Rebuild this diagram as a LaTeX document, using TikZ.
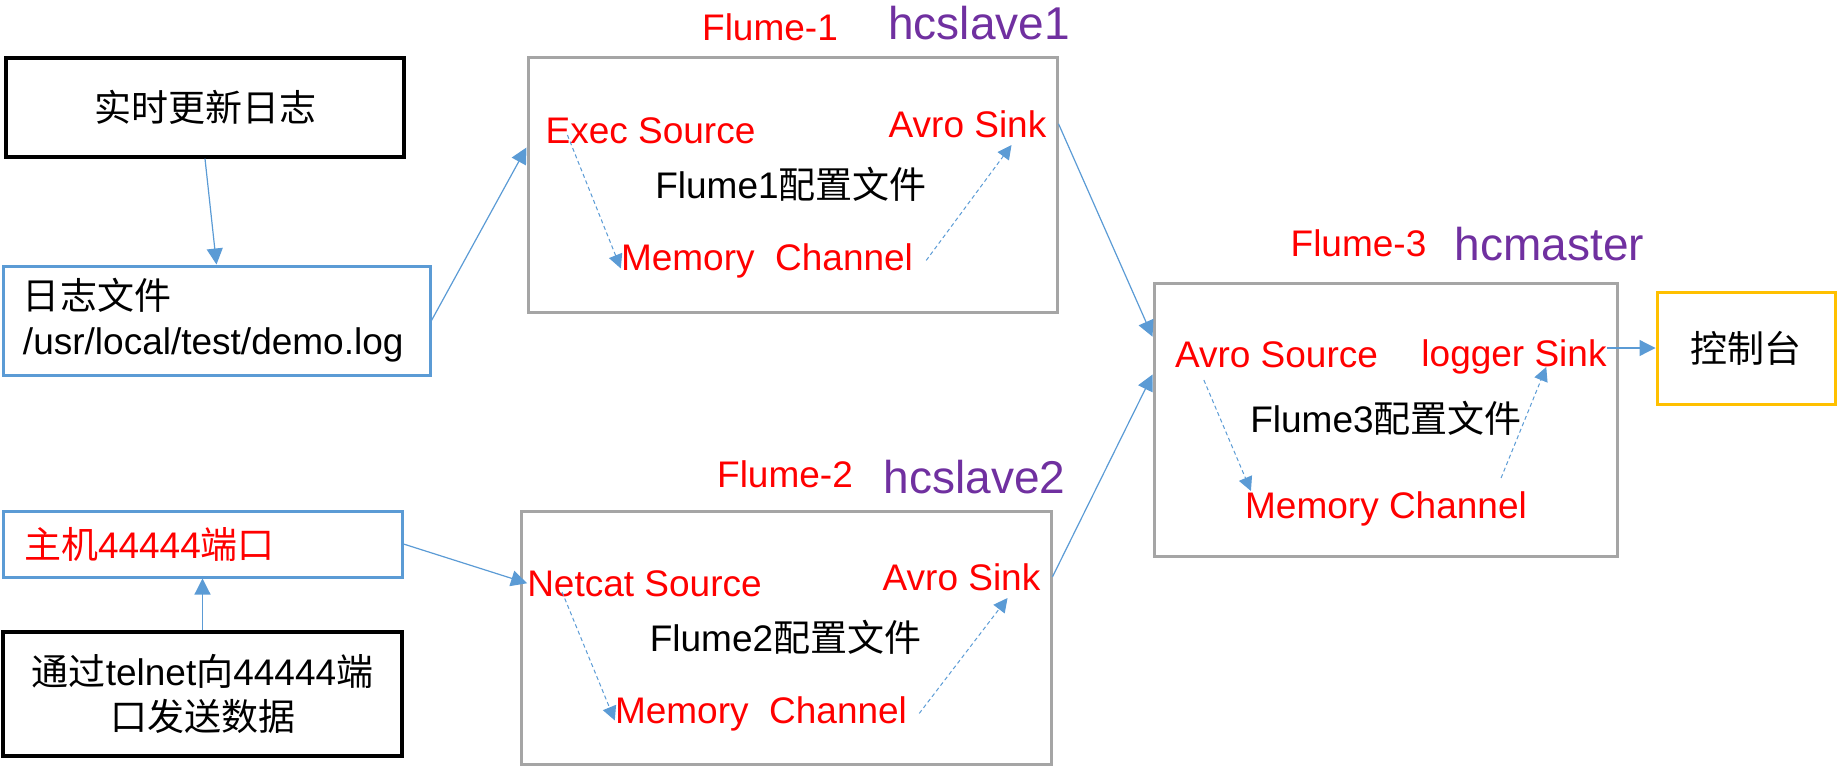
\documentclass[tikz,border=0pt]{standalone}
\usepackage{fontspec}
\setmainfont{Liberation Sans}
\newfontfamily\cjk{Noto Sans CJK SC}
\usepackage{xcolor}
\usepackage{tikz}
\usetikzlibrary{calc,arrows.meta}

\definecolor{flred}{HTML}{FF0000}
\definecolor{flpurple}{HTML}{7030A0}
\definecolor{flblue}{HTML}{5B9BD5}
\definecolor{flgray}{HTML}{A5A5A5}
\definecolor{flyellow}{HTML}{FFC000}

\begin{document}
\begin{tikzpicture}[x=1pt,y=-1pt,
			font=\fontsize{37}{45}\selectfont,
			box/.style={draw, rectangle, inner sep=0pt, line width=3pt},
			agent/.style={box, draw=flgray},
			lbl/.style={anchor=base, inner sep=0pt, text=flred},
			conf/.style={anchor=base, inner sep=0pt},
			host/.style={anchor=base, inner sep=0pt, text=flpurple, font=\fontsize{46}{55}\selectfont},
			arrow/.style={-{Triangle[length=16pt,width=16pt]}, draw=flblue, line width=1.2pt},
			flow/.style={-{Triangle[length=14pt,width=14pt]}, draw=flblue, line width=1pt, dash pattern=on 4pt off 3pt}]
			
			\useasboundingbox (0,0) rectangle (1838,768);
			
			\node[box, line width=3.4pt, minimum width=398pt, minimum height=99pt] (real) at (205,107.5) {\cjk 实时更新日志};
			\node[box, draw=flblue, minimum width=427pt, minimum height=109pt, text width=387pt, align=left] (logf) at (216.5,320.5) {{\cjk 日志文件}\\/usr/local/test/demo.log};
			\node[box, draw=flblue, minimum width=399pt, minimum height=66pt, text width=357pt, align=left, text=flred] (port) at (202.5,544) {{\cjk 主机}44444{\cjk 端口}};
			\node[box, line width=3.4pt, minimum width=399pt, minimum height=124pt, align=center] (telnet) at (202.5,694) {{\cjk 通过}telnet{\cjk 向}44444{\cjk 端}\\{\cjk 口发送数据}};
			
			\node[agent, minimum width=529pt, minimum height=254pt] (f1) at (792.5,185) {};
			\node[lbl] (f1name) at (770,40.7) {Flume-1};
			\node[host] (f1host) at (979,40) {hcslave1};
			\node[lbl] (es) at (650.5,143) {Exec Source};
			\node[lbl] (as1) at (967.5,137) {Avro Sink};
			\node[conf] (f1conf) at (791,198) {Flume1{\cjk 配置文件}};
			\node[lbl] (mc1) at (767,270) {Memory\ \ Channel};
			
			\node[agent, minimum width=530pt, minimum height=253pt] (f2) at (786,637.5) {};
			\node[lbl] (f2name) at (785,487) {Flume-2};
			\node[host] (f2host) at (974.5,493) {hcslave2};
			\node[lbl] (ns) at (644.5,596) {Netcat Source};
			\node[lbl] (as2) at (961.5,590) {Avro Sink};
			\node[conf] (f2conf) at (785.5,651) {Flume2{\cjk 配置文件}};
			\node[lbl] (mc2) at (761,723) {Memory\ \ Channel};
			
			\node[agent, minimum width=463pt, minimum height=273pt] (f3) at (1385.5,419.5) {};
			\node[lbl] (f3name) at (1358.5,256) {Flume-3};
			\node[host] (f3host) at (1549.5,260) {hcmaster};
			\node[lbl] (avs) at (1276.5,367) {Avro Source};
			\node[lbl] (ls) at (1514,366) {logger Sink};
			\node[conf] (f3conf) at (1386,432) {Flume3{\cjk 配置文件}};
			\node[lbl] (mc3) at (1386,518) {Memory Channel};
			
			\node[box, draw=flyellow, minimum width=178pt, minimum height=112pt] (con) at (1746,348) {\cjk 控制台};
			
			\draw[arrow] (real.south) -- (logf.north);
			\draw[arrow] (logf.east) -- ($(f1.north west)!0.354!(f1.south west)$);
			\draw[arrow] (telnet.north) -- (port.south);
			\draw[arrow] (port.east) -- (ns.west);
			\draw[arrow] (f1.east |- as1) -- ($(f3.north west)!0.2!(f3.south west)$);
			\draw[arrow] (f2.east |- as2) -- ($(f3.north west)!0.337!(f3.south west)$);
			\draw[arrow] (con.west -| ls.east) -- (con.west);
			
			\draw[flow] ($(es.base west)+(22,-8)$) -- ($(mc1.west)+(0,8)$);
			\draw[flow] ($(mc1.east)+(13,0)$) -- ($(as1.base east)+(-35,8)$);
			\draw[flow] ($(ns.base west)+(35,-4)$) -- ($(mc2.west)+(0,7)$);
			\draw[flow] ($(mc2.east)+(12,0)$) -- ($(as2.base east)+(-33,8)$);
			\draw[flow] ($(avs.base west)+(29,13)$) -- ($(mc3.north west)+(6,0)$);
			\draw[flow] ($(mc3.north east)+(-26,-13)$) -- ($(ls.base west)+(125,1)$);
			
		\end{tikzpicture}
\end{document}
